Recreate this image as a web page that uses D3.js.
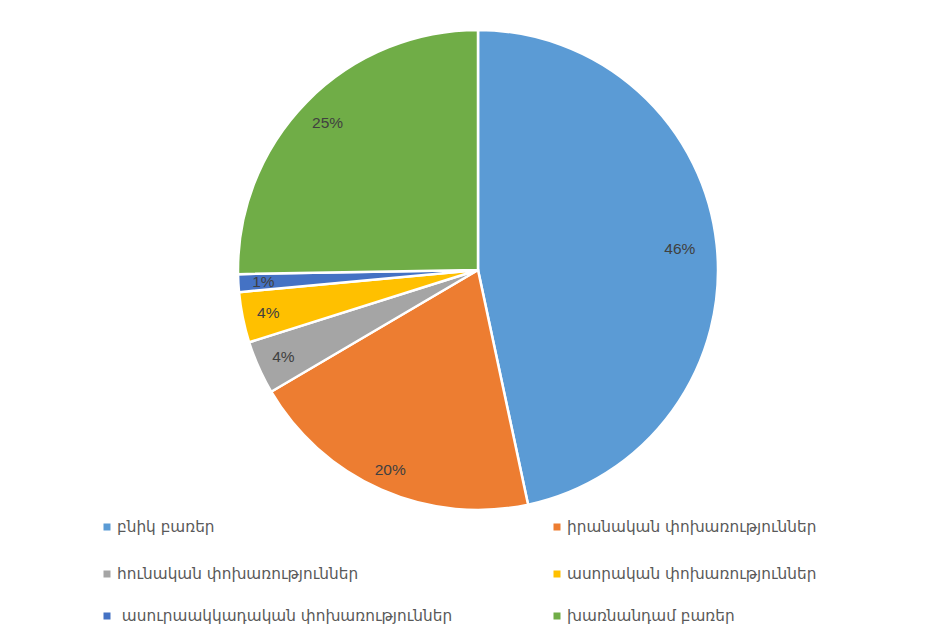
<!DOCTYPE html>
<html>
<head>
<meta charset="utf-8">
<script src="https://cdn.jsdelivr.net/npm/d3@7"></script>
<style>
  html, body { margin: 0; padding: 0; background: #fff; }
  svg { display: block; }
</style>
</head>
<body>
<svg id="chart" width="945" height="640"></svg>
<script>
const categories = [
  "բնիկ բառեր",
  "իրանական փոխառություններ",
  "հունական փոխառություններ",
  "ասորական փոխառություններ",
  " ասուրաակկադական փոխառություններ",
  "խառնանդամ բառեր"
];
const values = [46.7, 19.9, 3.6, 3.4, 1.2, 25.3];
const labels = ["46%", "20%", "4%", "4%", "1%", "25%"];
const colors = ["#5B9BD5", "#ED7D31", "#A5A5A5", "#FFC000", "#4472C4", "#70AD47"];
const legendOrder = [0, 1, 2, 3, 4, 5];

const svg = d3.select("#chart");
const cx = 478, cy = 270, R = 240;

const data = categories.map((c, i) => ({ name: c, value: values[i], label: labels[i], color: colors[i] }));

const pie = d3.pie().value(d => d.value).sort(null);
const arcs = pie(data);
const arc = d3.arc().innerRadius(0).outerRadius(R);

const g = svg.append("g").attr("transform", `translate(${cx},${cy})`);
g.selectAll("path.slice")
  .data(arcs)
  .join("path")
  .attr("class", "slice")
  .attr("d", arc)
  .attr("fill", d => d.data.color)
  .attr("stroke", "#fff")
  .attr("stroke-width", 2.5)
  .attr("stroke-linejoin", "round");

const labelRadius = [203, 218, 213, 214, 215, 211];
g.selectAll("text.lbl")
  .data(arcs)
  .join("text")
  .attr("class", "lbl")
  .attr("x", (d, i) => Math.sin((d.startAngle + d.endAngle) / 2) * labelRadius[i])
  .attr("y", (d, i) => -Math.cos((d.startAngle + d.endAngle) / 2) * labelRadius[i])
  .attr("text-anchor", "middle")
  .attr("dominant-baseline", "central")
  .attr("font-family", "'Liberation Sans', 'DejaVu Sans', sans-serif")
  .attr("font-size", 15.5)
  .attr("fill", "#404040")
  .text(d => d.data.label);

const colX = [107, 557];
const rowY = [527, 574, 616];
const leg = svg.append("g");
legendOrder.forEach((idx, k) => {
  const col = k % 2, row = Math.floor(k / 2);
  const item = leg.append("g").attr("transform", `translate(${colX[col]},${rowY[row]})`);
  item.append("rect")
    .attr("x", -3.5).attr("y", -3.5)
    .attr("width", 7).attr("height", 7)
    .attr("fill", data[idx].color);
  item.append("text")
    .attr("x", 10)
    .attr("y", 0)
    .attr("dominant-baseline", "central")
    .attr("font-family", "'DejaVu Sans', 'Noto Sans', sans-serif")
    .attr("font-size", 15.3)
    .attr("fill", "#595959")
    .style("white-space", "pre")
    .text(data[idx].name);
});
</script>
</body>
</html>
